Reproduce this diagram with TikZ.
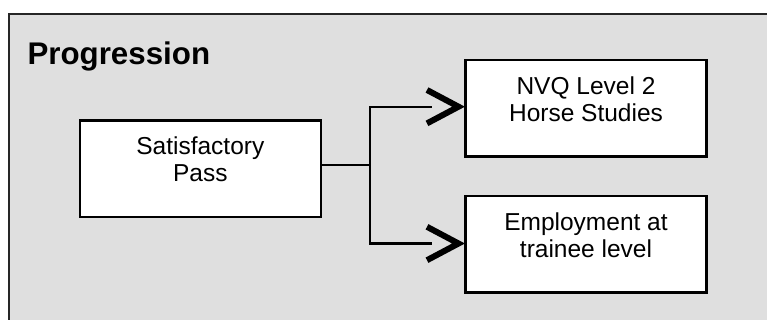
\documentclass[tikz,border=0pt]{standalone}
\usepackage{fontspec}
\setmainfont{Liberation Sans}
\usetikzlibrary{calc}
\definecolor{panel}{HTML}{DFDFDF}
\definecolor{framec}{HTML}{262626}
\begin{document}
\begin{tikzpicture}[x=1pt,y=-1pt,
  stepbox/.style={draw=black, line width=2.2pt, fill=white, minimum width=241pt,
    minimum height=96.5pt, inner sep=0pt, outer sep=0pt},
  boxtext/.style={anchor=north, inner sep=0pt, align=center,
    font=\fontsize{24.5}{27}\selectfont},
  link/.style={line width=2.3pt, line join=miter},
  chev/.style={line width=6pt, line join=miter, miter limit=10}]
\useasboundingbox (0,0) rectangle (767,320);
\clip (0,0) rectangle (767,320);
% panel
\fill[panel] (9,14.3) rectangle (790,340);
\draw[framec, line width=2pt] (9,340) -- (9,14.3) -- (790,14.3);
% title
\node[anchor=base west, inner sep=0pt, font=\fontsize{31.3}{36}\selectfont\bfseries]
  (title) at (27.3,64.5) {Progression};
% boxes
\node[stepbox] (sat) at (200.3,168.7) {};
\node[stepbox] (nvq) at (586,108.3) {};
\node[stepbox] (emp) at (586,244.3) {};
\node[boxtext] (satT) at ($(sat.north)+(0,15.3)$) {\strut Satisfactory\\\strut Pass};
\node[boxtext] (nvqT) at ($(nvq.north)+(0,15.1)$) {\strut NVQ Level 2\\\strut Horse Studies};
\node[boxtext] (empT) at ($(emp.north)+(0,15.1)$) {\strut Employment at\\\strut trainee level};
% connectors
\coordinate (j) at (370,165);
\coordinate (jt) at (370,106.7);
\coordinate (jb) at (370,243.5);
\coordinate (et) at (431.7,106.7);
\coordinate (eb) at (431.7,243.5);
\draw[link] (sat.east |- j) -- (j);
\draw[link] (et) -- (jt) -- (jb) -- (eb);
% chevron heads
\coordinate (tipT) at (458.5,106.7);
\coordinate (tipB) at (458.5,243.5);
\draw[chev] ($(tipT)+(-31.5,-16.7)$) -- (tipT) -- ($(tipT)+(-31.5,16.7)$);
\draw[chev] ($(tipB)+(-31.5,-16.7)$) -- (tipB) -- ($(tipB)+(-31.5,16.7)$);
\end{tikzpicture}
\end{document}
